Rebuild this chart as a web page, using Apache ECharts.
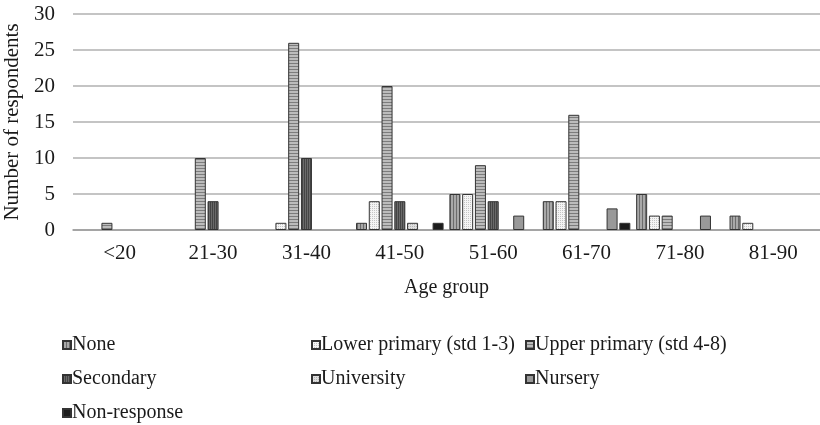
<!DOCTYPE html>
<html>
<head>
<meta charset="utf-8">
<script src="https://cdn.jsdelivr.net/npm/echarts@6/dist/echarts.min.js"></script>
<style>
  html, body { margin: 0; padding: 0; background: #fff; }
  #chart { width: 820px; height: 425px; }
</style>
</head>
<body>
<div id="chart"></div>
<script>
// Respondents per age group, by education level
const categories = ['<20', '21-30', '31-40', '41-50', '51-60', '61-70', '71-80', '81-90'];
const seriesNames = ['None', 'Lower primary (std 1-3)', 'Upper primary (std 4-8)', 'Secondary', 'University', 'Nursery', 'Non-response'];
const none          = [0, 0, 0, 1, 5, 4, 5, 2];
const lowerPrimary  = [0, 0, 1, 4, 5, 4, 2, 1];
const upperPrimary  = [1, 10, 26, 20, 9, 16, 2, 0];
const secondary     = [0, 4, 10, 4, 4, 0, 0, 0];
const university    = [0, 0, 0, 1, 0, 0, 0, 0];
const nursery       = [0, 0, 0, 0, 2, 3, 2, 0];
const nonResponse   = [0, 0, 0, 1, 0, 1, 0, 0];
const yTicks = [0, 5, 10, 15, 20, 25, 30];

const values = [none, lowerPrimary, upperPrimary, secondary, university, nursery, nonResponse];

// Small tiled fills for the monochrome bar patterns
function pattern(w, h, draw) {
  const c = document.createElement('canvas');
  c.width = w; c.height = h;
  const ctx = c.getContext('2d');
  draw(ctx);
  return { image: c, repeat: 'repeat' };
}
const fills = [
  pattern(3, 3, ctx => { ctx.fillStyle = '#a8a8a8'; ctx.fillRect(0, 0, 3, 3); ctx.fillStyle = '#6c6c6c'; ctx.fillRect(0, 0, 1, 3); }),
  pattern(2, 2, ctx => { ctx.fillStyle = '#f4f4f4'; ctx.fillRect(0, 0, 2, 2); ctx.fillStyle = '#c4c4c4'; ctx.fillRect(0, 0, 1, 1); }),
  pattern(3, 3, ctx => { ctx.fillStyle = '#bcbcbc'; ctx.fillRect(0, 0, 3, 3); ctx.fillStyle = '#7c7c7c'; ctx.fillRect(0, 0, 3, 1); }),
  pattern(2, 2, ctx => { ctx.fillStyle = '#6a6a6a'; ctx.fillRect(0, 0, 2, 2); ctx.fillStyle = '#444444'; ctx.fillRect(0, 0, 1, 2); }),
  pattern(2, 2, ctx => { ctx.fillStyle = '#dedede'; ctx.fillRect(0, 0, 2, 2); ctx.fillStyle = '#b4b4b4'; ctx.fillRect(0, 0, 1, 1); }),
  '#999999',
  '#1c1c1c'
];

const font = '"Liberation Serif", "Times New Roman", serif';

const legendPos = [
  [62, 335], [311, 335], [525, 335],
  [62, 369], [311, 369], [525, 369],
  [62, 403]
];

const chart = echarts.init(document.getElementById('chart'));
chart.setOption({
  animation: false,
  backgroundColor: '#ffffff',
  textStyle: { fontFamily: font },
  grid: { left: 73, right: 0, top: 14, bottom: 195, containLabel: false, outerBoundsMode: 'none' },
  legend: seriesNames.map((n, i) => ({
    data: [n],
    left: legendPos[i][0],
    top: legendPos[i][1],
    icon: 'rect',
    itemWidth: 8,
    itemHeight: 8,
    padding: 0,
    selectedMode: false,
    textStyle: { fontFamily: font, fontSize: 20, color: '#1a1a1a', padding: [0, 0, 0, -4] }
  })),
  xAxis: {
    type: 'category',
    data: categories,
    name: 'Age group',
    nameLocation: 'middle',
    nameGap: 48,
    nameTextStyle: { fontFamily: font, fontSize: 20, color: '#1a1a1a' },
    axisLine: { lineStyle: { color: '#9a9a9a', width: 1.5 } },
    axisTick: { show: false },
    axisLabel: { fontFamily: font, fontSize: 21, color: '#1a1a1a', margin: 13 }
  },
  yAxis: {
    type: 'value',
    min: yTicks[0],
    max: yTicks[yTicks.length - 1],
    interval: yTicks[1] - yTicks[0],
    name: 'Number of respondents',
    nameLocation: 'middle',
    nameRotate: 90,
    nameGap: 49,
    nameTextStyle: { fontFamily: font, fontSize: 21, color: '#1a1a1a' },
    axisLine: { show: false },
    axisTick: { show: false },
    splitLine: { lineStyle: { color: '#b0b0b0', width: 1.5 } },
    axisLabel: { fontFamily: font, fontSize: 21, color: '#1a1a1a', margin: 18 }
  },
  series: seriesNames.map((n, i) => ({
    name: n,
    type: 'bar',
    barWidth: 11,
    barGap: '16%',
    data: values[i].map(v => (v === 0 ? '-' : v)),
    itemStyle: { color: fills[i], borderColor: '#333333', borderWidth: 1 }
  }))
});
</script>
</body>
</html>
